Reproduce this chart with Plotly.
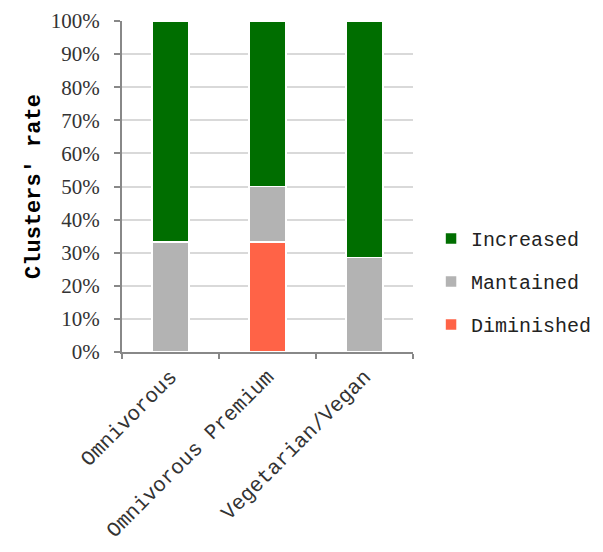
import plotly.graph_objects as go

categories = ["Omnivorous", "Omnivorous Premium", "Vegetarian/Vegan"]
diminished = [0.0, 33.3, 0.0]
mantained = [33.3, 16.7, 28.6]
increased = [66.7, 50.0, 71.4]
y_ticks = [0, 10, 20, 30, 40, 50, 60, 70, 80, 90, 100]
y_tick_labels = ["0%", "10%", "20%", "30%", "40%", "50%", "60%", "70%", "80%", "90%", "100%"]

mono = "Liberation Mono"
serif = "Liberation Serif"

fig = go.Figure()
for name, vals, col, rank in [("Diminished", diminished, "#ff6347", 3),
                              ("Mantained", mantained, "#b3b3b3", 2),
                              ("Increased", increased, "#006e00", 1)]:
    fig.add_trace(go.Bar(x=categories, y=vals, name=name, marker_color=col,
                         legendgroup=name, legendrank=rank,
                         marker_line=dict(color="white", width=1.5)))

fig.update_layout(
    barmode="stack", bargap=0.62,
    width=603, height=552, autosize=False,
    margin=dict(l=114, r=198, t=13, b=208, autoexpand=False),
    plot_bgcolor="white", paper_bgcolor="white",
    legend=dict(traceorder="grouped", x=1.062, y=0.213, yanchor="middle",
                font=dict(family=mono, size=20, color="#222"),
                itemwidth=30, tracegroupgap=14),
    showlegend=True,
)
fig.update_yaxes(range=[0, 100], tickvals=y_ticks, ticktext=y_tick_labels,
                 tickfont=dict(family=serif, size=21, color="#333"),
                 showgrid=True, gridcolor="#d9d9d9", gridwidth=1.5,
                 showline=True, linecolor="#888", linewidth=2,
                 ticks="outside", ticklen=6, tickcolor="#888", tickwidth=1.5,
                 ticklabelstandoff=10,
                 title=dict(text="<b>Clusters' rate</b>", font=dict(family=mono, size=22, color="black"),
                            standoff=4),
                 zeroline=False)
fig.update_xaxes(tickangle=-45, tickfont=dict(family=mono, size=21, color="#333"),
                 showline=True, linecolor="#888", linewidth=2,
                 ticks="outside", ticklen=5, tickcolor="#888", tickwidth=1.5,
                 tickson="boundaries", ticklabelstandoff=2)

fig.write_html("out.html")
